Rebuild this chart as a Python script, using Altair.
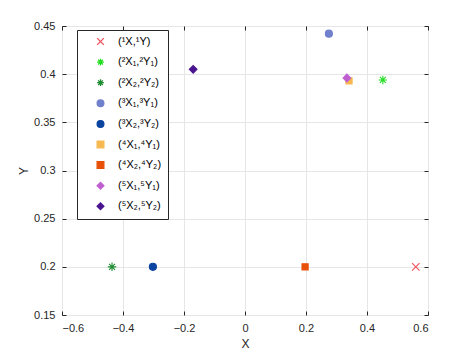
import altair as alt
import pandas as pd

labels = ["(¹X,¹Y)", "(²X₁,²Y₁)", "(²X₂,²Y₂)", "(³X₁,³Y₁)", "(³X₂,³Y₂)",
          "(⁴X₁,⁴Y₁)", "(⁴X₂,⁴Y₂)", "(⁵X₁,⁵Y₁)", "(⁵X₂,⁵Y₂)"]
xs = [0.56, 0.452, -0.436, 0.275, -0.302, 0.341, 0.197, 0.334, -0.17]
ys = [0.20, 0.394, 0.20, 0.442, 0.20, 0.393, 0.20, 0.396, 0.405]
colors = ["#F0505A", "#22DD22", "#1E8C32", "#7080CC", "#0A44A0",
          "#F8B850", "#E8500A", "#C060D0", "#4A1490"]
cross = "M-1,-1L1,1M-1,1L1,-1"
aster = "M-1,0L1,0M0,-1L0,1M-0.7,-0.7L0.7,0.7M-0.7,0.7L0.7,-0.7"
shapes = [cross, aster, aster, "circle", "circle", "square", "square", "diamond", "diamond"]
sizes = [56, 72, 72, 50, 50, 38, 38, 60, 60]

df = pd.DataFrame({"label": labels, "x": xs, "y": ys, "size": sizes})

font = "Liberation Sans"
scale_col = alt.Scale(domain=labels, range=colors)
leg = alt.Legend(title=None, orient="none", legendX=15, legendY=4,
                 strokeColor="#262626", fillColor="white",
                 padding=6, rowPadding=7.6, labelFontSize=11,
                 labelFont=font, labelColor="#000000",
                 symbolSize=45, symbolStrokeWidth=1.3,
                 symbolOffset=12, labelOffset=12, labelLimit=200)

base = alt.Chart(df)

points = base.mark_point(filled=True, opacity=1, strokeWidth=1.1).encode(
    x=alt.X("x:Q", scale=alt.Scale(domain=[-0.6, 0.6], nice=False),
            axis=alt.Axis(title="X", values=[-0.6, -0.4, -0.2, 0, 0.2, 0.4, 0.6],
                          format="~g", offset=-4, tickSize=4, domain=False,
                          labelPadding=7, titlePadding=5)),
    y=alt.Y("y:Q", scale=alt.Scale(domain=[0.15, 0.45], nice=False, zero=False),
            axis=alt.Axis(title="Y", values=[0.15, 0.2, 0.25, 0.3, 0.35, 0.4, 0.45],
                          format="~g", offset=-4, tickSize=4, domain=False,
                          labelPadding=7, titlePadding=3)),
    fill=alt.Fill("label:N", scale=scale_col, sort=labels, legend=leg),
    stroke=alt.Stroke("label:N", scale=scale_col, sort=labels, legend=leg),
    shape=alt.Shape("label:N", scale=alt.Scale(domain=labels, range=shapes),
                    sort=labels, legend=leg),
    size=alt.Size("size:Q", scale=None, legend=None),
)

frame = base.mark_point(opacity=0).encode(
    x=alt.X("x:Q", axis=alt.Axis(orient="top", labels=False, title=None,
                                 values=[-0.6, -0.4, -0.2, 0, 0.2, 0.4, 0.6],
                                 offset=-4, tickSize=4, domain=False, grid=False)),
    y=alt.Y("y:Q", axis=alt.Axis(orient="right", labels=False, title=None,
                                 values=[0.15, 0.2, 0.25, 0.3, 0.35, 0.4, 0.45],
                                 offset=-4, tickSize=4, domain=False, grid=False)),
)

chart = alt.layer(points, frame).resolve_axis(x="independent", y="independent").properties(
    width=366, height=289,
    autosize=alt.AutoSizeParams(type="none"),
    padding={"left": 62, "top": 26, "right": 46, "bottom": 40},
    background="white",
).configure_view(
    stroke="#262626", strokeWidth=1
).configure_axis(
    gridColor="#E6E6E6", gridOpacity=1, tickColor="#262626",
    labelFont=font, labelFontSize=11, labelColor="#262626",
    titleFont=font, titleFontSize=12, titleColor="#262626", titleFontWeight="normal",
)

chart.save("out.html", embed_options={"renderer": "svg", "actions": False})
